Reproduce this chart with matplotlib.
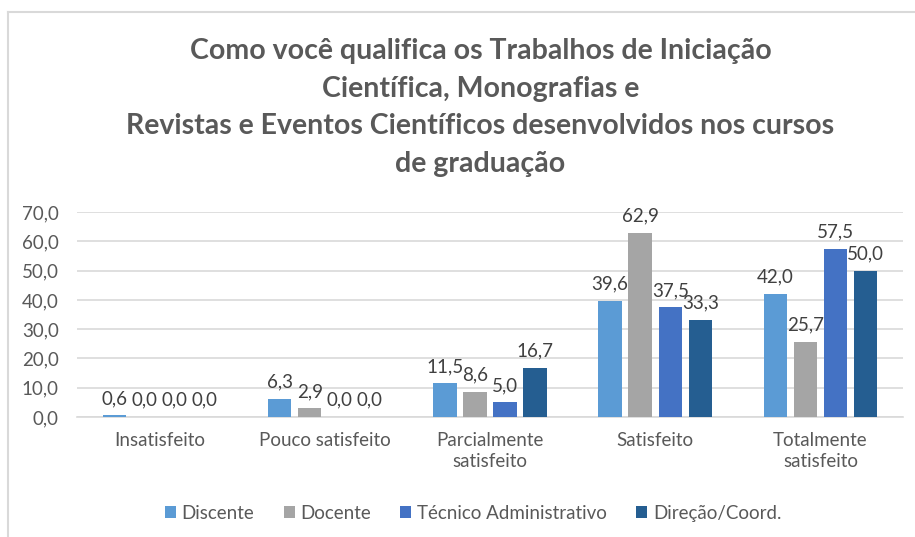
import matplotlib
matplotlib.use("Agg")
import matplotlib.pyplot as plt
import numpy as np
from matplotlib.lines import Line2D
from matplotlib.patches import Patch

categories = ["Insatisfeito", "Pouco satisfeito", "Parcialmente\nsatisfeito", "Satisfeito", "Totalmente\nsatisfeito"]
series_names = ["Discente", "Docente", "Técnico Administrativo", "Direção/Coord."]
discente = [0.6, 6.3, 11.5, 39.6, 42.0]
docente = [0.0, 2.9, 8.6, 62.9, 25.7]
tecnico = [0.0, 0.0, 5.0, 37.5, 57.5]
direcao = [0.0, 0.0, 16.7, 33.3, 50.0]
yticks = [0, 10, 20, 30, 40, 50, 60, 70]
colors = ["#5B9BD5", "#A5A5A5", "#4472C4", "#255E91"]

plt.rcParams['font.family'] = ['Lato', 'DejaVu Sans']
fig = plt.figure(figsize=(9.15, 5.37), dpi=100)
ax = fig.add_axes([0.084, 0.2235, 0.903, 0.3815])

x = np.arange(len(categories))
step = 0.182
width = 0.142
all_series = [discente, docente, tecnico, direcao]
txt = "#404040"
for i, (vals, name, c) in enumerate(zip(all_series, series_names, colors)):
    pos = x + (i - 1.5) * step
    ax.bar(pos, vals, width=width, color=c, label=name, zorder=3)
    for p, v in zip(pos, vals):
        ax.annotate(f"{v:.1f}".replace(".", ","), (p, v), xytext=(0, 6), textcoords="offset points",
                    ha="center", va="bottom", fontsize=13.5, color=txt, zorder=4)

ax.set_xlim(-0.5, len(categories) - 0.5)
ax.set_ylim(0, 70)
ax.set_yticks(yticks)
ax.set_yticklabels([f"{t:.1f}".replace(".", ",") for t in yticks], fontsize=13.5, color="#595959")
ax.set_xticks(x)
ax.set_xticklabels(categories, fontsize=13.5, color="#595959", linespacing=1.3)
ax.tick_params(axis="both", length=0)
ax.tick_params(axis="x", pad=11)
ax.tick_params(axis="y", pad=13)
ax.grid(axis="y", color="#D9D9D9", linewidth=1.2, zorder=0)
for s in ["top", "right", "left"]:
    ax.spines[s].set_visible(False)
ax.spines["bottom"].set_color("#D9D9D9")
ax.spines["bottom"].set_linewidth(1.2)

fig.text(0.525, 0.80, "Como você qualifica os Trabalhos de Iniciação\nCientífica, Monografias e\nRevistas e Eventos Científicos desenvolvidos nos cursos\nde graduação",
         ha="center", va="center", fontsize=20.5, fontweight="bold", color="#595959", linespacing=1.55)

handles = [Patch(facecolor=c, edgecolor="none") for c in colors]
fig.legend(handles, series_names, loc="center", bbox_to_anchor=(0.517, 0.044), ncol=4,
           frameon=False, fontsize=13.5, labelcolor="#595959", handlelength=0.6, handleheight=0.6,
           handletextpad=0.3, columnspacing=1.55)

fig.add_artist(Line2D([8/915, 8/915], [0, 1 - 12/537], color="#D9D9D9", linewidth=1.5, transform=fig.transFigure))
fig.add_artist(Line2D([8/915, 1], [1 - 12/537, 1 - 12/537], color="#D9D9D9", linewidth=1.5, transform=fig.transFigure))

fig.savefig("out.png", dpi=100, facecolor="white")
